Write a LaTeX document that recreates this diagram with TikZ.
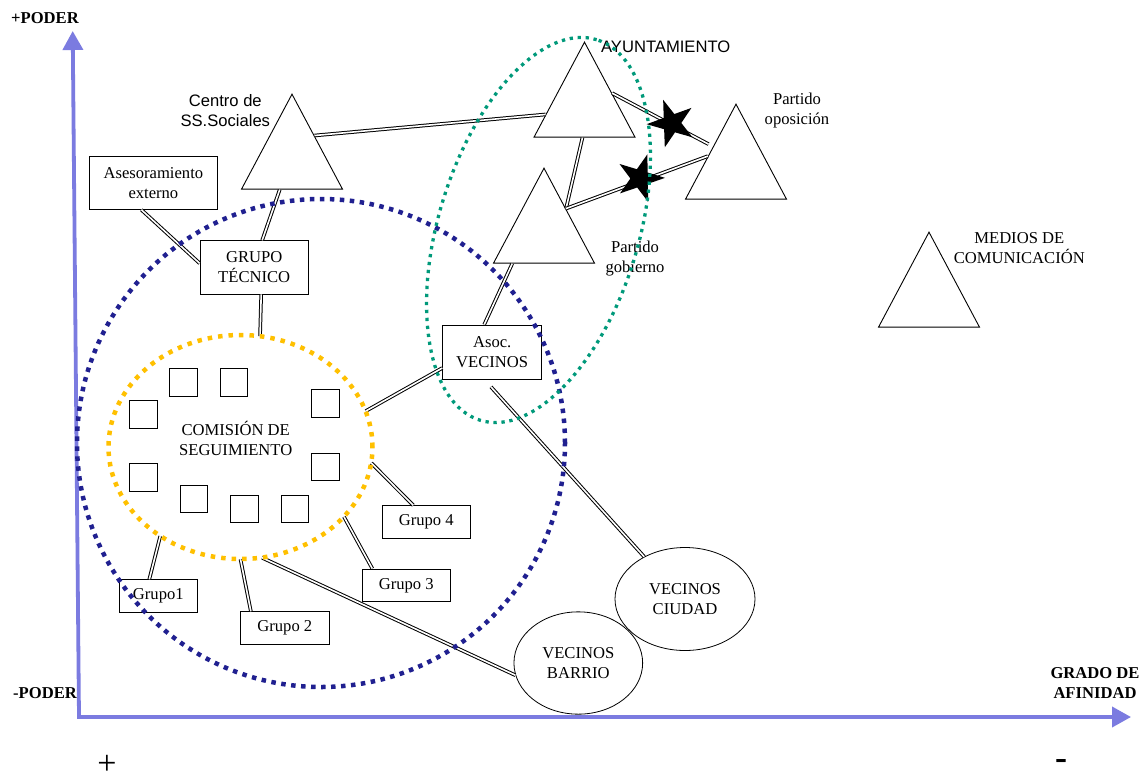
\documentclass[tikz,border=0pt]{standalone}
\usepackage{fontspec}
\setmainfont{Liberation Serif}
\setsansfont{Liberation Sans}
\usepackage{tikz}
\usetikzlibrary{shapes,arrows.meta,positioning,calc}
\definecolor{axisBlue}{HTML}{7B7BE0}
\definecolor{zoneBlue}{HTML}{202090}
\definecolor{zoneGold}{HTML}{FFC000}
\definecolor{zoneGreen}{HTML}{00997A}
\tikzset{
    actor/.style={draw, line width=0.9pt, isosceles triangle, isosceles triangle stretches,
                  rotate=90, minimum width=101pt, minimum height=95pt, inner sep=0pt, anchor=apex},
    actorBox/.style={draw, line width=0.8pt, inner sep=0pt, align=center, font=\fontsize{16.6}{20}\selectfont},
    actorCirc/.style={draw, line width=0.8pt, ellipse, inner sep=0pt, align=center, font=\fontsize{16.6}{20}\selectfont},
    member/.style={draw, line width=0.8pt, minimum size=27.7pt, inner sep=0pt},
    clash/.style={star, star points=5, star point ratio=2.6, fill=black, minimum size=50pt, inner sep=0pt},
    link/.style={draw=black, double=white, double distance=1.6pt, line width=1pt},
    axis/.style={draw=axisBlue, line width=3.8pt},
    txt/.style={font=\fontsize{16.6}{20}\selectfont, align=center, inner sep=0pt},
    txtSans/.style={txt, font=\sffamily\fontsize{16.6}{20}\selectfont},
    axisLabel/.style={txt, font=\bfseries\fontsize{16.6}{20}\selectfont},
    zoneB/.style={draw=zoneBlue, line width=4.5pt, dash pattern=on 4.5pt off 5.5pt},
    zoneY/.style={draw=zoneGold, line width=4.5pt, dash pattern=on 4.5pt off 6pt},
    zoneG/.style={draw=zoneGreen, line width=3.3pt, dash pattern=on 3.3pt off 4.7pt},
}
\begin{document}
\begin{tikzpicture}[x=1pt, y=-1pt]
    \useasboundingbox (0,0) rectangle (1146,780);

    % Axes
    \coordinate (origin) at (79,717);
    \coordinate (ytip) at (72.7,31);
    \coordinate (xtip) at (1131,717);
    \draw[axis, {Triangle[width=20pt,length=19pt]}-{Triangle[width=20pt,length=19pt]}] (ytip) -- (origin) -- (xtip);
    \node[axisLabel] (masPoder) at (45,18) {+PODER};
    \node[axisLabel] (menosPoder) at (45,693) {-PODER};
    \node[axisLabel] (afinidad) at (1095,683) {GRADO DE\\AFINIDAD};
    \node[inner sep=0pt, font=\fontsize{34}{38}\selectfont] (mas) at (107,765) {+};
    \node[inner sep=0pt, font=\bfseries\fontsize{36}{40}\selectfont] (menos) at (1061,764) {-};

    % Triangles (institutions)
    \node[actor] (Cen) at (292,93) {};
    \node[actor] (Ayt) at (584.5,41) {};
    \node[actor] (PG) at (544,167) {};
    \node[actor] (PO) at (736,103) {};
    \node[actor] (Med) at (929,231) {};
    \node[txtSans] (CenL) at (225.3,110.3) {Centro de\\SS.Sociales};
    \node[txtSans] (AytL) at (665.7,46.7) {AYUNTAMIENTO};
    \node[txt] (POL) at (797,110.3) {Partido\\oposición};
    \node[txt] (PGL) at (635,259) {Partido\\gobierno};
    \node[txt] (MedL) at (1019.3,248.3) {MEDIOS DE\\COMUNICACIÓN};

    % Boxes
    \node[actorBox, minimum width=128.7pt, minimum height=53.3pt] (Ase) at (153.4,182.7) {Asesoramiento\\externo};
    \node[actorBox, minimum width=108.3pt, minimum height=53.3pt] (GT) at (254.2,267.3) {GRUPO\\TÉCNICO};
    \node[actorBox, minimum width=99pt, minimum height=54pt] (AV) at (492.2,352) {Asoc.\\VECINOS};
    \node[actorBox, minimum width=88pt, minimum height=32.6pt] (G4) at (426.3,522) {Grupo 4};
    \node[actorBox, minimum width=88pt, minimum height=32.7pt] (G3) at (406.3,585.3) {Grupo 3};
    \node[actorBox, minimum width=78pt, minimum height=32.6pt] (G1) at (158.3,596) {Grupo1};
    \node[actorBox, minimum width=88.3pt, minimum height=32.3pt] (G2) at (284.85,627.85) {Grupo 2};

    % Neighbours
    \node[actorCirc, minimum width=140pt, minimum height=103pt] (VC) at (685,599) {VECINOS\\CIUDAD};
    \node[actorCirc, minimum width=128.7pt, minimum height=102.3pt] (VB) at (578.3,663) {VECINOS\\BARRIO};

    % Comision de seguimiento
    \node[ellipse, minimum width=264pt, minimum height=224pt, inner sep=0pt] (Com) at (240.5,447) {};
    \node[txt] (ComL) at (235.7,438.3) {COMISIÓN DE\\SEGUIMIENTO};
    \node[member] (S1) at (183.5,382.5) {};
    \node[member] (S2) at (234,382.5) {};
    \node[member] (S3) at (143.2,414.2) {};
    \node[member] (S4) at (325.2,403.5) {};
    \node[member] (S5) at (143.2,477.7) {};
    \node[member] (S6) at (325.2,467) {};
    \node[member] (S7) at (193.9,498.8) {};
    \node[member] (S8) at (244.2,509) {};
    \node[member] (S9) at (294.9,509) {};

    % Links
    \draw[link] ($(Cen.apex)!0.44!(Cen.right corner)$) -- ($(Ayt.apex)!0.76!(Ayt.left corner)$);
    \draw[link] ($(Cen.left corner)!0.38!(Cen.right corner)$) -- ($(GT.north)+(8,0)$);
    \draw[link] ($(Ase.south)+(-12,0)$) -- ($(GT.west)+(0,-4)$);
    \draw[link] ($(GT.south)+(7,0)$) -- (Com.80);
    \draw[link] ($(Ayt.left corner)!0.48!(Ayt.right corner)$) -- ($(PG.apex)!0.43!(PG.right corner)$);
    \draw[link] ($(PG.apex)!0.43!(PG.right corner)$) -- ($(PO.apex)!0.55!(PO.left corner)$);
    \draw[link, shorten >=5pt] ($(Ayt.apex)!0.54!(Ayt.right corner)$) -- ($(PO.apex)!0.45!(PO.left corner)$);
    \draw[link] ($(PG.left corner)!0.19!(PG.right corner)$) -- ($(AV.north)+(-8,0)$);
    \draw[link] ($(AV.west)+(0,16)$) -- (Com.16);
    \draw[link, shorten <=10pt] ($(AV.south)+(-8,0)$) -- (VC.134);
    \draw[link] (Com.-7) -- ($(G4.north)+(-13,0)$);
    \draw[link] (Com.-34) -- ($(G3.north)+(-34,0)$);
    \draw[link] (Com.-132) -- ($(G1.north)+(-9,0)$);
    \draw[link] (Com.south) -- ($(G2.north)+(-34,0)$);
    \draw[link] (Com.-79) -- (VB.191);

    % Conflicts
    \node[clash, rotate=20] (X1) at (671.7,123.3) {};
    \node[clash, rotate=-17] (X2) at (640,178.3) {};

    % Zones
    \node[zoneB, circle, minimum size=488pt, inner sep=0pt] (zonaTec) at (321,443) {};
    \node[zoneY, ellipse, minimum width=264pt, minimum height=224pt, inner sep=0pt] (zonaCom) at (240.5,447) {};
    \node[zoneG, ellipse, rotate=73, minimum width=398pt, minimum height=200pt, inner sep=0pt] (zonaAyt) at (538.5,230) {};
\end{tikzpicture}
\end{document}
